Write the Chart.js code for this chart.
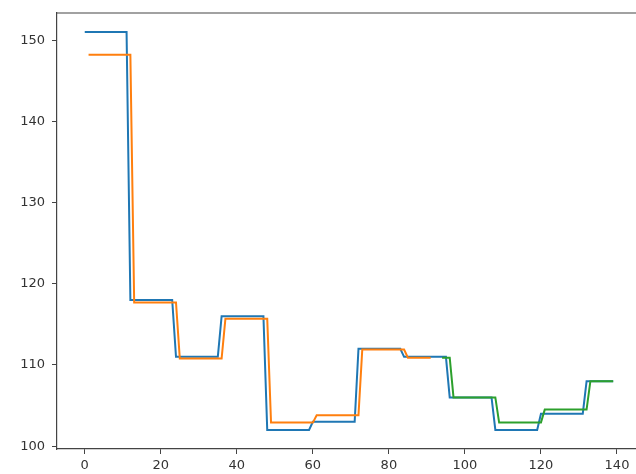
<!DOCTYPE html>
<html>
<head>
<meta charset="utf-8">
<script src="https://cdn.jsdelivr.net/npm/chart.js@4.4.1/dist/chart.umd.min.js"></script>
<style>
  html, body { margin: 0; padding: 0; background: #fff; overflow: hidden; }
  canvas { display: block; }
</style>
</head>
<body>
<canvas id="chart" width="636" height="474"></canvas>
<script>
// DATA - corners of each polyline
const actualX = [0, 11, 12, 23, 24, 35, 36, 47, 48, 59, 60, 71, 72, 83, 84, 95, 96, 107, 108, 119, 120, 131, 132, 139];
const actualY = [151, 151, 118, 118, 111, 111, 116, 116, 102, 102, 103, 103, 112, 112, 111, 111, 106, 106, 102, 102, 104, 104, 108, 108];

const trainX = [1, 12, 13, 24, 25, 36, 37, 48, 49, 60, 61, 72, 73, 84, 85, 91];
const trainY = [148.2, 148.2, 117.7, 117.7, 110.8, 110.8, 115.7, 115.7, 102.9, 102.9, 103.8, 103.8, 111.9, 111.9, 110.9, 110.9];

const testX = [94, 96, 97, 108, 109, 120, 121, 132, 133, 139];
const testY = [110.9, 110.9, 106, 106, 102.9, 102.9, 104.5, 104.5, 108, 108];

const xTicks = [0, 20, 40, 60, 80, 100, 120, 140];
const yTicks = [100, 110, 120, 130, 140, 150];

function toPoints(xs, ys) {
    return xs.map((x, i) => ({ x: x, y: ys[i] }));
}

// top spine (the right one is cut off in the reference)
const topSpine = {
    id: 'topSpine',
    afterDraw(chart) {
        const { ctx, chartArea } = chart;
        ctx.save();
        ctx.strokeStyle = '#444';
        ctx.lineWidth = 1.2;
        ctx.beginPath();
        ctx.moveTo(chartArea.left, chartArea.top);
        ctx.lineTo(chartArea.right, chartArea.top);
        ctx.stroke();
        ctx.restore();
    }
};

function line(xs, ys, color, order) {
    return {
        data: toPoints(xs, ys),
        borderColor: color,
        borderWidth: 2,
        pointRadius: 0,
        tension: 0,
        fill: false,
        order: order
    };
}

const axisStyle = {
    grid: { display: true, drawOnChartArea: false, drawTicks: true, tickLength: 5, color: '#444' },
    border: { display: true, color: '#444', width: 1.2 },
    ticks: { color: '#333', font: { family: 'DejaVu Sans', size: 13 } }
};

new Chart(document.getElementById('chart'), {
    type: 'line',
    data: {
        datasets: [
            line(actualX, actualY, '#1f77b4', 3),
            line(trainX, trainY, '#ff7f0e', 2),
            line(testX, testY, '#2ca02c', 1)
        ]
    },
    options: {
        responsive: false,
        animation: false,
        devicePixelRatio: 1,
        layout: { padding: { top: 13, right: 0, bottom: 0, left: 0 } },
        plugins: { legend: { display: false }, tooltip: { enabled: false } },
        scales: {
            x: {
                type: 'linear',
                min: -7.3,
                max: 145,
                grid: axisStyle.grid,
                border: axisStyle.border,
                ticks: Object.assign({ padding: 4 }, axisStyle.ticks),
                afterBuildTicks: s => { s.ticks = xTicks.map(v => ({ value: v })); },
                afterFit: s => { s.height = 25; s.paddingLeft = 0; s.paddingRight = 0; }
            },
            y: {
                type: 'linear',
                min: 99.65,
                max: 153.35,
                grid: axisStyle.grid,
                border: axisStyle.border,
                ticks: Object.assign({ padding: 7 }, axisStyle.ticks),
                afterBuildTicks: s => { s.ticks = yTicks.map(v => ({ value: v })); },
                afterFit: s => { s.width = 57; s.paddingTop = 0; s.paddingBottom = 0; }
            }
        }
    },
    plugins: [topSpine]
});
</script>
</body>
</html>
